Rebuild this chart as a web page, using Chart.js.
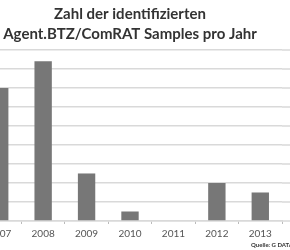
<!DOCTYPE html>
<html>
<head>
<meta charset="utf-8">
<script src="https://cdn.jsdelivr.net/npm/chart.js@4/dist/chart.umd.min.js"></script>
<style>
    html, body { margin: 0; padding: 0; background: #fff; overflow: hidden; }
    #wrap { position: relative; width: 290px; height: 250px; overflow: hidden; }
    #box { position: absolute; left: -30px; top: 0; width: 350px; height: 250px; }
    #quelle {
        position: absolute; left: 251px; top: 241px;
        font: bold 6px Lato, "Liberation Sans", sans-serif;
        color: #333; white-space: nowrap;
    }
</style>
</head>
<body>
<div id="wrap">
    <div id="box"><canvas id="samplesChart"></canvas></div>
    <div id="quelle">Quelle: G DATA</div>
</div>
<script>
// Daten
const years = ['2007', '2008', '2009', '2010', '2011', '2012', '2013'];
const samples = [70, 84, 25, 5, 0, 20, 15];
const yTicks = [0, 10, 20, 30, 40, 50, 60, 70, 80, 90];

const gridColor = '#d9d9d9';

// Gitterlinien bis zum rechten Rand verlaengern
const extendGrid = {
    id: 'extendGrid',
    beforeDatasetsDraw(chart) {
        const { ctx, chartArea, scales } = chart;
        ctx.save();
        ctx.strokeStyle = gridColor;
        ctx.lineWidth = 1.5;
        yTicks.forEach(v => {
            const y = scales.y.getPixelForValue(v);
            ctx.beginPath();
            ctx.moveTo(chartArea.right, y);
            ctx.lineTo(chart.width, y);
            ctx.stroke();
        });
        ctx.restore();
    }
};

const ctx = document.getElementById('samplesChart').getContext('2d');
new Chart(ctx, {
    type: 'bar',
    data: {
        labels: years,
        datasets: [{
            data: samples,
            backgroundColor: '#777777',
            borderWidth: 0,
            barPercentage: 0.8,
            categoryPercentage: 0.5
        }]
    },
    options: {
        responsive: true,
        maintainAspectRatio: false,
        animation: false,
        layout: { padding: { left: 8, right: 38, top: 0, bottom: 6 } },
        plugins: {
            legend: { display: false },
            tooltip: { enabled: false },
            title: {
                display: true,
                text: ['Zahl der identifizierten', 'Agent.BTZ/ComRAT Samples pro Jahr'],
                color: '#333333',
                font: { family: 'Lato, "Liberation Sans", sans-serif', size: 15, weight: 'bold', lineHeight: 1.33 },
                padding: { top: 4, bottom: 6 }
            }
        },
        scales: {
            x: {
                grid: { drawOnChartArea: false, drawTicks: true, tickLength: 3, color: '#bbbbbb', offset: true },
                border: { display: true, color: gridColor, width: 1.5 },
                ticks: {
                    color: '#555555',
                    padding: 4,
                    font: { family: 'Lato, "Liberation Sans", sans-serif', size: 10 }
                }
            },
            y: {
                min: 0,
                max: 90,
                afterBuildTicks: axis => { axis.ticks = yTicks.map(v => ({ value: v })); },
                ticks: { display: false },
                grid: { color: gridColor, lineWidth: 1.5, drawTicks: false },
                border: { display: false }
            }
        }
    },
    plugins: [extendGrid]
});
</script>
</body>
</html>
